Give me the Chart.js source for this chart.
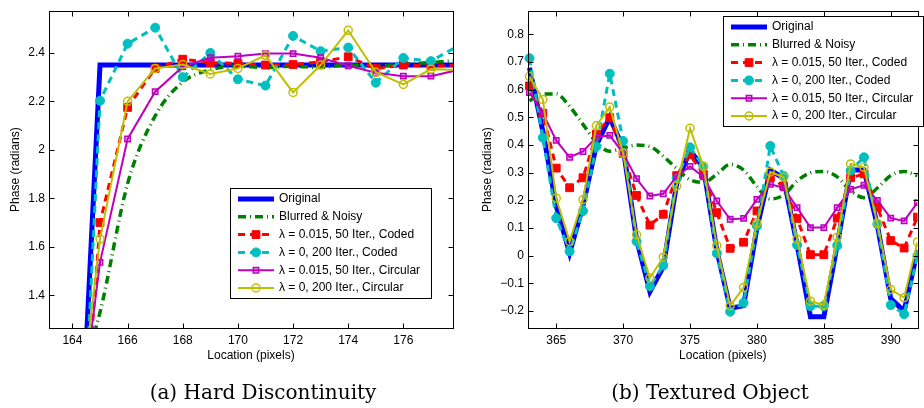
<!DOCTYPE html>
<html>
<head>
<meta charset="utf-8">
<script src="https://cdn.jsdelivr.net/npm/chart.js@4.4.0/dist/chart.umd.min.js"></script>
<style>
  html, body { margin: 0; padding: 0; background: #fff; overflow: hidden; }
  #wrap { position: relative; width: 924px; height: 408px; }
  canvas { position: absolute; top: 0; }
  #cA { left: 0; }
  #cB { left: 472px; }
  .cap { position: absolute; top: 382px; font: 20px "DejaVu Serif", serif; line-height: 20px;
         white-space: nowrap; transform: translateX(-50%); color: #000; }
</style>
</head>
<body>
<div id="wrap">
  <canvas id="cA" width="462" height="408"></canvas>
  <canvas id="cB" width="452" height="408"></canvas>
  <div class="cap" style="left:263px">(a) Hard Discontinuity</div>
  <div class="cap" style="left:710px">(b) Textured Object</div>
</div>
<script>
// ---- panel (a): hard discontinuity ----
const locA = [163, 164, 165, 166, 167, 168, 169, 170, 171, 172, 173, 174, 175, 176, 177, 178];
const origA = [0, 0.05, 2.35, 2.35, 2.35, 2.35, 2.35, 2.35, 2.35, 2.35, 2.35, 2.35, 2.35, 2.35, 2.35, 2.35];
const blurA = [0.5, 0.95, 1.33, 1.86, 2.14, 2.28, 2.33, 2.345, 2.34, 2.345, 2.34, 2.35, 2.345, 2.355, 2.36, 2.37];
const coded015A = [0, 0.15, 1.70, 2.175, 2.336, 2.374, 2.36, 2.356, 2.35, 2.352, 2.363, 2.384, 2.335, 2.35, 2.345, 2.35];
const coded0A = [-0.3, -0.15, 2.203, 2.438, 2.504, 2.30, 2.40, 2.291, 2.265, 2.47, 2.407, 2.422, 2.277, 2.379, 2.366, 2.43];
const circ015A = [0.3, 0.63, 1.536, 2.045, 2.24, 2.343, 2.38, 2.386, 2.397, 2.397, 2.38, 2.347, 2.318, 2.304, 2.304, 2.33];
const circ0A = [0.3, 0.66, 1.632, 2.2, 2.336, 2.352, 2.313, 2.336, 2.39, 2.237, 2.35, 2.493, 2.32, 2.27, 2.333, 2.33];
const xTicksA = [164, 166, 168, 170, 172, 174, 176];
const yTicksA = [1.4, 1.6, 1.8, 2, 2.2, 2.4];
const xRangeA = [163.15, 177.8];
const yRangeA = [1.265, 2.572];

// ---- panel (b): textured object ----
const locB = [363, 364, 365, 366, 367, 368, 369, 370, 371, 372, 373, 374, 375, 376, 377,
              378, 379, 380, 381, 382, 383, 384, 385, 386, 387, 388, 389, 390, 391, 392];
const origB = [0.68, 0.45, 0.18, 0.01, 0.18, 0.40, 0.50, 0.39, 0.06, -0.13, -0.04, 0.26, 0.38, 0.32, 0.02,
               -0.19, -0.18, 0.10, 0.31, 0.28, 0.04, -0.22, -0.22, 0.04, 0.31, 0.31, 0.11, -0.155, -0.20, 0.02];
const blurB = [0.56, 0.585, 0.585, 0.54, 0.475, 0.41, 0.378, 0.39, 0.40, 0.395, 0.36, 0.315, 0.275, 0.265, 0.295,
               0.33, 0.31, 0.25, 0.205, 0.22, 0.27, 0.30, 0.305, 0.285, 0.235, 0.21, 0.245, 0.29, 0.305, 0.29];
const coded015B = [0.614, 0.515, 0.317, 0.246, 0.282, 0.44, 0.499, 0.37, 0.218, 0.111, 0.15, 0.29, 0.365, 0.294, 0.156,
                   0.027, 0.049, 0.162, 0.282, 0.252, 0.135, 0.004, 0.004, 0.136, 0.282, 0.296, 0.174, 0.055, 0.028, 0.14];
const coded0B = [0.714, 0.427, 0.136, 0.016, 0.162, 0.395, 0.658, 0.415, 0.052, -0.11, -0.035, 0.28, 0.392, 0.323, 0.009,
                 -0.202, -0.17, 0.108, 0.397, 0.288, 0.039, -0.182, -0.182, 0.037, 0.308, 0.356, 0.114, -0.178, -0.211, 0.0];
const circ015B = [0.59, 0.515, 0.417, 0.356, 0.377, 0.429, 0.435, 0.371, 0.279, 0.216, 0.224, 0.288, 0.323, 0.285, 0.198,
                  0.132, 0.135, 0.204, 0.258, 0.246, 0.174, 0.102, 0.102, 0.174, 0.24, 0.255, 0.2, 0.136, 0.126, 0.192];
const circ0B = [0.648, 0.565, 0.208, 0.052, 0.203, 0.47, 0.538, 0.371, 0.076, -0.08, -0.005, 0.252, 0.461, 0.323, 0.037,
                -0.181, -0.115, 0.118, 0.303, 0.284, 0.06, -0.164, -0.178, 0.067, 0.332, 0.32, 0.118, -0.122, -0.151, 0.05];
const xTicksB = [365, 370, 375, 380, 385, 390];
const yTicksB = [-0.2, -0.1, 0, 0.1, 0.2, 0.3, 0.4, 0.5, 0.6, 0.7, 0.8];
const xRangeB = [362.89, 392.0];
const yRangeB = [-0.261, 0.884];

const seriesNames = [
  'Original',
  'Blurred & Noisy',
  'λ = 0.015, 50 Iter., Coded',
  'λ = 0, 200 Iter., Coded',
  'λ = 0.015, 50 Iter., Circular',
  'λ = 0, 200 Iter., Circular'
];

// matlab-ish line specs, one per series
const lineStyles = [
  { borderColor: '#0000ff', borderWidth: 5, pointRadius: 0 },
  { borderColor: '#008000', borderWidth: 3.5, borderDash: [8, 4, 1, 4], pointRadius: 0, cubicInterpolationMode: 'monotone' },
  { borderColor: '#ff0000', borderWidth: 3, borderDash: [7, 5], pointStyle: 'rect', pointRadius: 5.5,
    pointBackgroundColor: '#ff0000', pointBorderColor: '#ff0000', pointBorderWidth: 1 },
  { borderColor: '#00bfbf', borderWidth: 3, borderDash: [7, 5], pointStyle: 'circle', pointRadius: 4.5,
    pointBackgroundColor: '#00bfbf', pointBorderColor: '#00bfbf', pointBorderWidth: 1 },
  { borderColor: '#bf00bf', borderWidth: 2, pointStyle: 'rect', pointRadius: 3.8,
    pointBackgroundColor: 'rgba(191,0,191,0.3)', pointBorderColor: '#bf00bf', pointBorderWidth: 1.5 },
  { borderColor: '#bfbf00', borderWidth: 2, pointStyle: 'circle', pointRadius: 4,
    pointBackgroundColor: 'rgba(255,255,255,0)', pointBorderColor: '#bfbf00', pointBorderWidth: 1.5 }
];

Chart.defaults.font.family = '"Liberation Sans", Arial, sans-serif';
Chart.defaults.font.size = 12;
Chart.defaults.color = '#000';

const fmt = v => String(+Number(v).toFixed(2)).replace('-', '\u2212');

// box round the axes with inward ticks on all four sides
const frame = {
  id: 'frame',
  afterDatasetsDraw(chart) {
    const { ctx, chartArea: a, scales: { x, y } } = chart;
    const L = Math.round(a.left) + 0.5, R = Math.round(a.right) + 0.5;
    const T = Math.round(a.top) + 0.5, B = Math.round(a.bottom) + 0.5;
    ctx.save();
    ctx.strokeStyle = '#000';
    ctx.lineWidth = 1;
    ctx.strokeRect(L, T, R - L, B - T);
    ctx.beginPath();
    x.ticks.forEach(t => {
      const px = Math.round(x.getPixelForValue(t.value)) + 0.5;
      ctx.moveTo(px, B); ctx.lineTo(px, B - 5);
      ctx.moveTo(px, T); ctx.lineTo(px, T + 5);
    });
    y.ticks.forEach(t => {
      const py = Math.round(y.getPixelForValue(t.value)) + 0.5;
      ctx.moveTo(L, py); ctx.lineTo(L + 5, py);
      ctx.moveTo(R, py); ctx.lineTo(R - 5, py);
    });
    ctx.stroke();
    ctx.restore();
  }
};

function marker(ctx, ds, x, y) {
  const r = ds.pointRadius;
  ctx.beginPath();
  if (ds.pointStyle === 'rect') {
    const s = r * Math.SQRT1_2;
    ctx.rect(x - s, y - s, 2 * s, 2 * s);
  } else {
    ctx.arc(x, y, r, 0, Math.PI * 2);
  }
  ctx.fillStyle = ds.pointBackgroundColor;
  ctx.fill();
  ctx.lineWidth = ds.pointBorderWidth;
  ctx.strokeStyle = ds.pointBorderColor;
  ctx.stroke();
}

// boxed legend sitting inside the plot
const legendBox = {
  id: 'legendBox',
  afterDraw(chart, args, o) {
    const { ctx } = chart;
    ctx.save();
    ctx.fillStyle = '#fff';
    ctx.fillRect(o.x, o.y, o.w, o.h);
    ctx.strokeStyle = '#000';
    ctx.lineWidth = 1;
    ctx.strokeRect(o.x + 0.5, o.y + 0.5, o.w, o.h);
    chart.data.datasets.forEach((ds, i) => {
      const cy = o.y + 11 + i * 17.8;
      ctx.save();
      ctx.strokeStyle = ds.borderColor;
      ctx.lineWidth = ds.borderWidth;
      ctx.setLineDash(ds.borderDash || []);
      ctx.beginPath();
      ctx.moveTo(o.x + 8, cy);
      ctx.lineTo(o.x + 44, cy);
      ctx.stroke();
      ctx.restore();
      if (ds.pointRadius > 0) marker(ctx, ds, o.x + 26, cy);
      ctx.fillStyle = '#000';
      ctx.font = '12px "Liberation Sans", Arial, sans-serif';
      ctx.textBaseline = 'middle';
      ctx.textAlign = 'left';
      ctx.fillText(ds.label, o.x + 49, cy);
    });
    ctx.restore();
  }
};

function makeDatasets(xs, cols) {
  return cols.map((ys, i) => Object.assign({
    label: seriesNames[i],
    data: xs.map((x, j) => ({ x: x, y: ys[j] })),
    fill: false,
    order: cols.length - i,
    clip: { left: 6, top: 0, right: 0, bottom: 0 }
  }, lineStyles[i]));
}

function makeScales(xr, yr, xt, yt, yWidth) {
  return {
    x: {
      type: 'linear', min: xr[0], max: xr[1],
      grid: { display: false, drawTicks: false }, border: { display: false },
      ticks: { padding: 5, maxRotation: 0, autoSkip: false, callback: fmt },
      afterBuildTicks: s => { s.ticks = xt.map(v => ({ value: v })); },
      afterFit: s => { s.height = 37; },
      title: { display: true, text: 'Location (pixels)', padding: { top: 0, bottom: 2 } }
    },
    y: {
      type: 'linear', min: yr[0], max: yr[1],
      grid: { display: false, drawTicks: false }, border: { display: false },
      ticks: { padding: 4, autoSkip: false, callback: fmt },
      afterBuildTicks: s => { s.ticks = yt.map(v => ({ value: v })); },
      afterFit: s => { s.width = yWidth; },
      title: { display: true, text: 'Phase (radians)', padding: { top: 8, bottom: 0 } }
    }
  };
}

function makeChart(id, xs, cols, xr, yr, xt, yt, yWidth, pad, legendPos) {
  return new Chart(document.getElementById(id), {
    type: 'line',
    data: { datasets: makeDatasets(xs, cols) },
    options: {
      responsive: false,
      animation: false,
      events: [],
      layout: { padding: pad },
      scales: makeScales(xr, yr, xt, yt, yWidth),
      plugins: {
        legend: { display: false },
        tooltip: { enabled: false },
        legendBox: legendPos
      }
    },
    plugins: [frame, legendBox]
  });
}

makeChart('cA', locA, [origA, blurA, coded015A, coded0A, circ015A, circ0A],
  xRangeA, yRangeA, xTicksA, yTicksA, 49,
  { top: 9, right: 9, bottom: 43, left: 0 },
  { x: 230, y: 188, w: 201, h: 110 });

makeChart('cB', locB, [origB, blurB, coded015B, coded0B, circ015B, circ0B],
  xRangeB, yRangeB, xTicksB, yTicksB, 56,
  { top: 9, right: 0, bottom: 43, left: 0 },
  { x: 251, y: 16, w: 200, h: 110 });
</script>
</body>
</html>
